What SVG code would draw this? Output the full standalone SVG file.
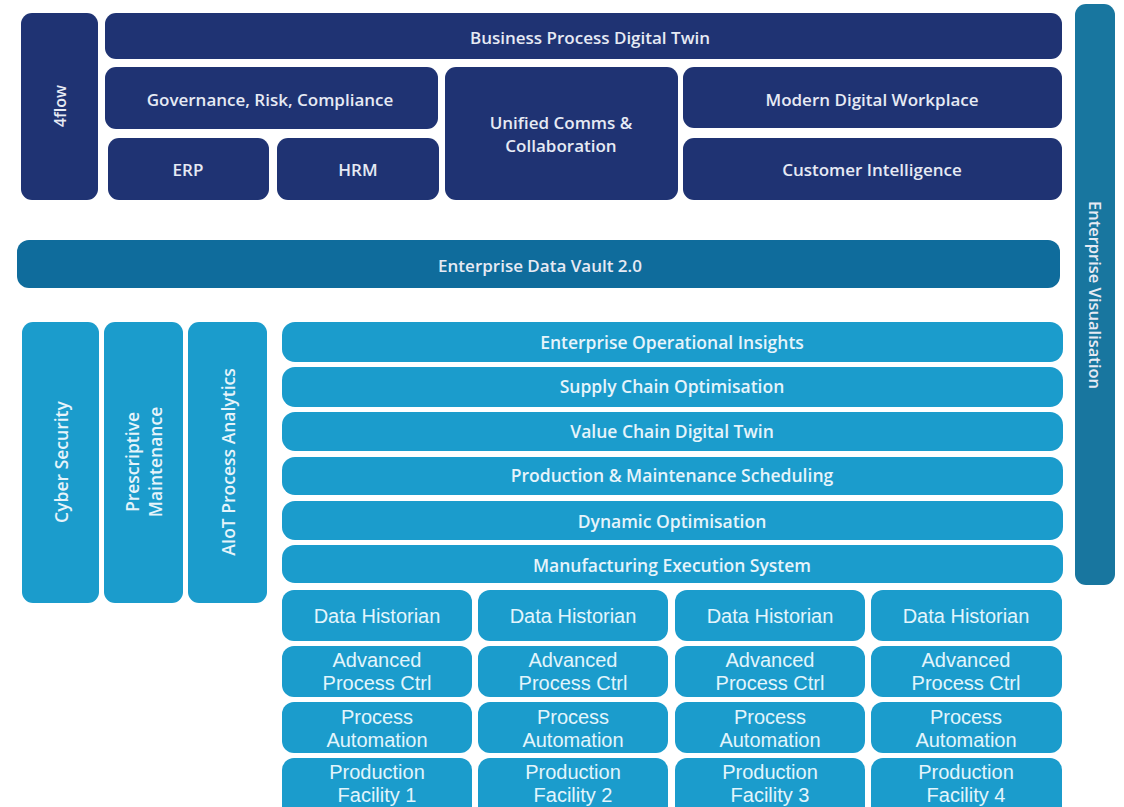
<svg xmlns="http://www.w3.org/2000/svg" width="1124" height="807" viewBox="0 0 1124 807">
<style>
.navy{fill:#1f3373}
.edv{fill:#0f6c9c}
.vis{fill:#18769f}
.lb{fill:#1b9ccc}
.t{font-family:"Open Sans","Noto Sans",sans-serif;font-size:17px;font-weight:600;fill:#e6eaf4;text-anchor:middle;dominant-baseline:central}
.tl{font-family:"Open Sans","Noto Sans",sans-serif;font-size:17.5px;font-weight:600;fill:#e6f4fb;text-anchor:middle;dominant-baseline:central}
.g{font-family:"Liberation Sans",Arial,sans-serif;font-size:20px;fill:#e2f5fc;text-anchor:middle;dominant-baseline:central}
</style>
<rect width="1124" height="807" fill="#ffffff"/>
<g id="n-4flow"><rect class="navy" x="21" y="13" width="77" height="187" rx="11"/><text class="t" style="font-size:16px" transform="translate(60,106) rotate(-90)">4flow</text></g>
<g id="n-bpdt"><rect class="navy" x="105" y="13" width="957" height="46" rx="11"/><text class="t" x="590" y="37">Business Process Digital Twin</text></g>
<g id="n-grc"><rect class="navy" x="105" y="67" width="333" height="62" rx="11"/><text class="t" x="270" y="99">Governance, Risk, Compliance</text></g>
<g id="n-erp"><rect class="navy" x="108" y="138" width="161" height="62" rx="11"/><text class="t" x="188" y="169">ERP</text></g>
<g id="n-hrm"><rect class="navy" x="277" y="138" width="162" height="62" rx="11"/><text class="t" x="358" y="169">HRM</text></g>
<g id="n-ucc"><rect class="navy" x="445" y="67" width="233" height="133" rx="11"/><text class="t" x="561" y="122">Unified Comms &amp;</text><text class="t" x="561" y="145">Collaboration</text></g>
<g id="n-mdw"><rect class="navy" x="683" y="67" width="379" height="61" rx="11"/><text class="t" x="872" y="99">Modern Digital Workplace</text></g>
<g id="n-ci"><rect class="navy" x="683" y="138" width="379" height="62" rx="11"/><text class="t" x="872" y="169">Customer Intelligence</text></g>
<g id="n-vis"><rect class="vis" x="1075" y="4" width="40" height="581" rx="11"/><text class="t" style="font-size:16.5px" transform="translate(1095,295) rotate(90)">Enterprise Visualisation</text></g>
<g id="n-edv"><rect class="edv" x="17" y="240" width="1043" height="48" rx="12"/><text class="t" x="540" y="265">Enterprise Data Vault 2.0</text></g>
<g id="n-cyber"><rect class="lb" x="22" y="322" width="77" height="281" rx="11"/><text class="tl" transform="translate(61,462) rotate(-90)">Cyber Security</text></g>
<g id="n-presc"><rect class="lb" x="104" y="322" width="79" height="281" rx="11"/><text class="tl" transform="translate(143,462) rotate(-90)"><tspan x="0" y="-11">Prescriptive</tspan><tspan x="0" y="12">Maintenance</tspan></text></g>
<g id="n-aiot"><rect class="lb" x="188" y="322" width="79" height="281" rx="11"/><text class="tl" transform="translate(228,462) rotate(-90)">AIoT Process Analytics</text></g>
<g id="n-eoi"><rect class="lb" x="282" y="322" width="781" height="40" rx="13"/><text class="tl" x="672" y="342">Enterprise Operational Insights</text></g>
<g id="n-sco"><rect class="lb" x="282" y="367" width="781" height="40" rx="13"/><text class="tl" x="672" y="386">Supply Chain Optimisation</text></g>
<g id="n-vcdt"><rect class="lb" x="282" y="412" width="781" height="39" rx="13"/><text class="tl" x="672" y="431">Value Chain Digital Twin</text></g>
<g id="n-pms"><rect class="lb" x="282" y="457" width="781" height="38" rx="13"/><text class="tl" x="672" y="475">Production &amp; Maintenance Scheduling</text></g>
<g id="n-dyn"><rect class="lb" x="282" y="501" width="781" height="39" rx="13"/><text class="tl" x="672" y="521">Dynamic Optimisation</text></g>
<g id="n-mes"><rect class="lb" x="282" y="545" width="781" height="38" rx="13"/><text class="tl" x="672" y="565">Manufacturing Execution System</text></g>
<g id="n-dh1"><rect class="lb" x="282" y="590" width="190" height="51" rx="12"/><text class="g" x="377" y="616">Data Historian</text></g>
<g id="n-dh2"><rect class="lb" x="478" y="590" width="190" height="51" rx="12"/><text class="g" x="573" y="616">Data Historian</text></g>
<g id="n-dh3"><rect class="lb" x="675" y="590" width="190" height="51" rx="12"/><text class="g" x="770" y="616">Data Historian</text></g>
<g id="n-dh4"><rect class="lb" x="871" y="590" width="191" height="51" rx="12"/><text class="g" x="966" y="616">Data Historian</text></g>
<g id="n-apc1"><rect class="lb" x="282" y="646" width="190" height="51" rx="12"/><text class="g" x="377" y="660">Advanced</text><text class="g" x="377" y="683">Process Ctrl</text></g>
<g id="n-apc2"><rect class="lb" x="478" y="646" width="190" height="51" rx="12"/><text class="g" x="573" y="660">Advanced</text><text class="g" x="573" y="683">Process Ctrl</text></g>
<g id="n-apc3"><rect class="lb" x="675" y="646" width="190" height="51" rx="12"/><text class="g" x="770" y="660">Advanced</text><text class="g" x="770" y="683">Process Ctrl</text></g>
<g id="n-apc4"><rect class="lb" x="871" y="646" width="191" height="51" rx="12"/><text class="g" x="966" y="660">Advanced</text><text class="g" x="966" y="683">Process Ctrl</text></g>
<g id="n-pa1"><rect class="lb" x="282" y="702" width="190" height="51" rx="12"/><text class="g" x="377" y="717">Process</text><text class="g" x="377" y="740">Automation</text></g>
<g id="n-pa2"><rect class="lb" x="478" y="702" width="190" height="51" rx="12"/><text class="g" x="573" y="717">Process</text><text class="g" x="573" y="740">Automation</text></g>
<g id="n-pa3"><rect class="lb" x="675" y="702" width="190" height="51" rx="12"/><text class="g" x="770" y="717">Process</text><text class="g" x="770" y="740">Automation</text></g>
<g id="n-pa4"><rect class="lb" x="871" y="702" width="191" height="51" rx="12"/><text class="g" x="966" y="717">Process</text><text class="g" x="966" y="740">Automation</text></g>
<g id="n-pf1"><rect class="lb" x="282" y="758" width="190" height="60" rx="12"/><text class="g" x="377" y="772">Production</text><text class="g" x="377" y="795">Facility 1</text></g>
<g id="n-pf2"><rect class="lb" x="478" y="758" width="190" height="60" rx="12"/><text class="g" x="573" y="772">Production</text><text class="g" x="573" y="795">Facility 2</text></g>
<g id="n-pf3"><rect class="lb" x="675" y="758" width="190" height="60" rx="12"/><text class="g" x="770" y="772">Production</text><text class="g" x="770" y="795">Facility 3</text></g>
<g id="n-pf4"><rect class="lb" x="871" y="758" width="191" height="60" rx="12"/><text class="g" x="966" y="772">Production</text><text class="g" x="966" y="795">Facility 4</text></g>
<g id="connectors"></g>
</svg>
